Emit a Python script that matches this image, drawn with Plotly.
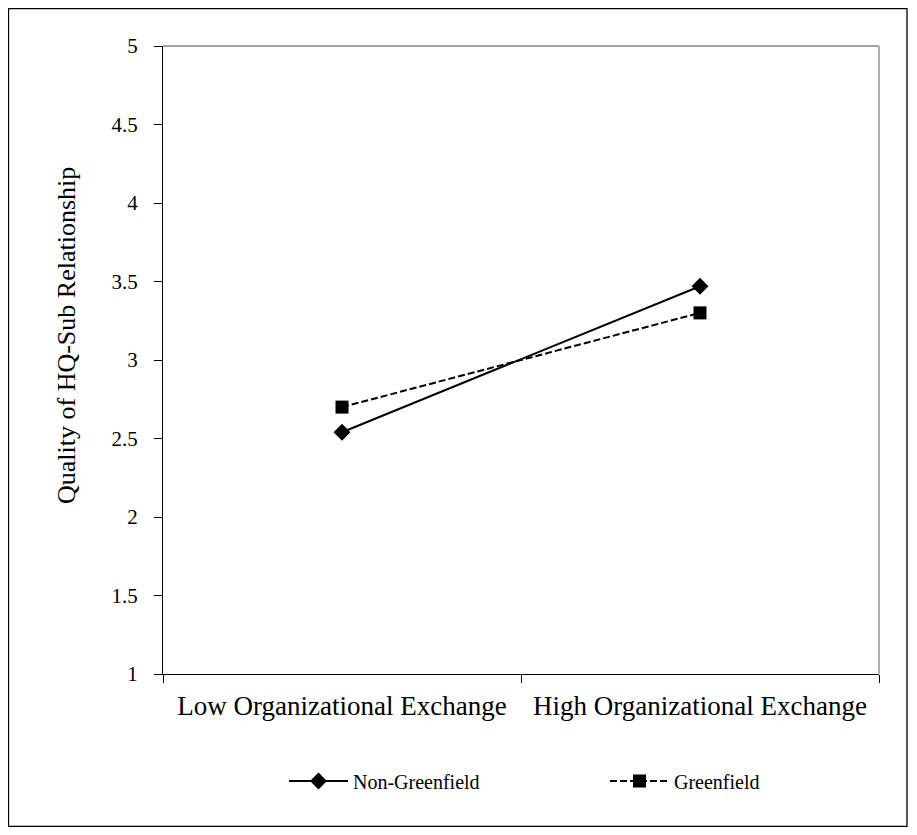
import plotly.graph_objects as go

categories = ["Low Organizational Exchange", "High Organizational Exchange"]
non_greenfield = [2.54, 3.47]
greenfield = [2.70, 3.30]
y_ticks = [1, 1.5, 2, 2.5, 3, 3.5, 4, 4.5, 5]
y_title = "Quality of HQ-Sub Relationship"

# The page has an 8px body margin, so figure pixel = reference pixel - 8
OFF = 8
W, H = 901, 819
L, T = 163 - OFF, 46 - OFF
R = W - (879 - OFF)
B = H - (674 - OFF)
pw, ph = W - L - R, H - T - B

fig = go.Figure()
fig.add_trace(go.Scatter(
    x=categories, y=non_greenfield, name="Non-Greenfield", mode="lines+markers",
    line=dict(color="black", width=2, dash="solid"),
    marker=dict(symbol="diamond", size=13, color="black"),
    legend="legend",
))
fig.add_trace(go.Scatter(
    x=categories, y=greenfield, name="Greenfield", mode="lines+markers",
    line=dict(color="black", width=2, dash="7px,3px"),
    marker=dict(symbol="square", size=13, color="black"),
    legend="legend2",
))

font = "Liberation Serif, Times New Roman, serif"

def px_x(p):
    return (p - OFF - L) / pw

def px_y(p):
    return (H - B - (p - OFF)) / ph

legend_common = dict(orientation="h", xanchor="left", yanchor="middle",
                     font=dict(size=20, family=font), itemwidth=59,
                     bgcolor="rgba(0,0,0,0)")

fig.update_layout(
    width=W, height=H,
    margin=dict(l=L, r=R, t=T, b=B, pad=0),
    paper_bgcolor="white", plot_bgcolor="white",
    font=dict(family=font, color="black"),
    showlegend=True,
    legend=dict(x=px_x(284), y=px_y(781), **legend_common),
    legend2=dict(x=px_x(605), y=px_y(781), **legend_common),
    xaxis=dict(type="category", range=[-0.5, 1.5], tickson="boundaries", ticks="outside",
               ticklen=8, tickcolor="black", showline=True, linecolor="black", linewidth=1.3,
               showgrid=False, tickfont=dict(size=27, family=font), ticklabelstandoff=7,
               zeroline=False),
    yaxis=dict(range=[1, 5], tickvals=y_ticks, ticks="outside", ticklen=8, tickcolor="black",
               showline=True, linecolor="black", linewidth=1.3, showgrid=False,
               tickfont=dict(size=21, family=font), ticklabelstandoff=12, zeroline=False),
    annotations=[
        dict(text=y_title, xref="paper", yref="paper", x=px_x(66), y=px_y(336),
             xanchor="center", yanchor="middle", textangle=-90, showarrow=False,
             font=dict(size=26, family=font, color="black")),
    ],
    shapes=[
        dict(type="line", xref="paper", yref="paper", x0=0, x1=1, y0=1, y1=1,
             line=dict(color="#868686", width=1.3)),
        dict(type="line", xref="paper", yref="paper", x0=1, x1=1, y0=0, y1=1,
             line=dict(color="#868686", width=1.3)),
        dict(type="rect", xref="paper", yref="paper",
             x0=px_x(8.5), x1=px_x(907), y0=px_y(826.5), y1=px_y(8.5),
             line=dict(color="black", width=1.3)),
    ],
)

fig.write_html("out.html")
